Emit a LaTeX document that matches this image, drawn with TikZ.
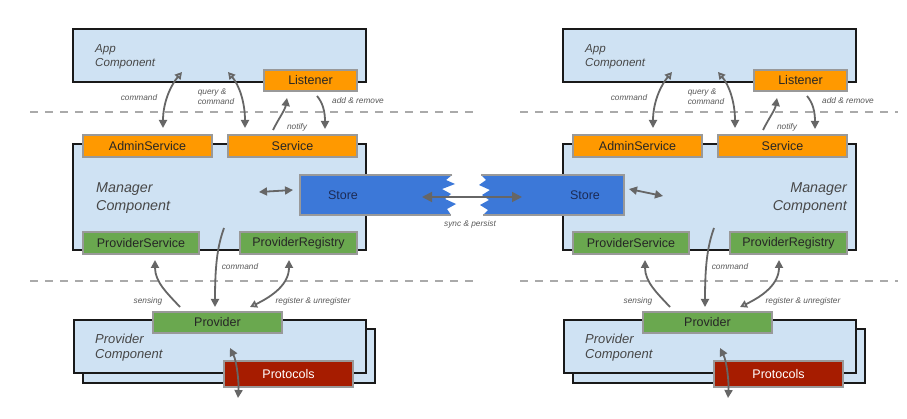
\documentclass[tikz,border=0pt]{standalone}
\usepackage{fontspec}
\setmainfont{Liberation Sans}
\usetikzlibrary{arrows.meta}
\definecolor{compfill}{HTML}{CFE2F3}
\definecolor{orng}{HTML}{FF9900}
\definecolor{grn}{HTML}{6AA84F}
\definecolor{stblue}{HTML}{3C78D8}
\definecolor{stnavy}{HTML}{1C2B55}
\definecolor{dred}{HTML}{A61C00}
\definecolor{arrgray}{HTML}{666666}
\definecolor{bordgray}{HTML}{999999}
\definecolor{dashgray}{HTML}{AAAAAA}
\tikzset{
  comp/.style={draw=black!90, line width=1.7pt, fill=compfill, inner sep=0pt, outer sep=0pt},
  smallbox/.style={draw=bordgray, line width=1.5pt, inner sep=0pt, outer sep=0pt,
    font=\fontsize{12.5}{14}\selectfont, text=black!85},
  arr/.style={draw=arrgray, line width=1.8pt},
  fwd/.style={arr, -{Triangle[length=8pt,width=8pt]}},
  twoway/.style={arr, {Triangle[length=8pt,width=8pt]}-{Triangle[length=8pt,width=8pt]}},
  openfwd/.style={arr, {Triangle[open,length=7pt,width=7.5pt]}-{Triangle[length=8pt,width=8pt]}},
  lbl/.style={font=\fontsize{8.3}{10}\selectfont\itshape, text=black!65, inner sep=0pt, align=left},
  complbl/.style={text=black!72, inner sep=0pt},
  dashline/.style={draw=dashgray, line width=1.8pt, dash pattern=on 8pt off 7pt},
  storetext/.style={font=\fontsize{12.5}{14}\selectfont, text=stnavy, inner sep=0pt}
}
\newcommand\halfdiagram[1]{%
  % App component
  \node[comp, minimum width=293pt, minimum height=53pt] (#1app) at (219.5,55.5) {};
  \node[complbl, anchor=west, align=left, font=\fontsize{11.6}{14}\selectfont\itshape] (#1applbl) at (95,57) {App\\Component};
  \node[smallbox, fill=orng, minimum width=93pt, minimum height=21pt] (#1listener) at (310.5,80.5) {Listener};
  % Manager component
  \node[comp, minimum width=293pt, minimum height=106pt] (#1mgr) at (219.5,197) {};
  \node[smallbox, fill=orng, minimum width=129pt, minimum height=22pt] (#1admin) at (147.5,146) {AdminService};
  \node[smallbox, fill=orng, minimum width=129pt, minimum height=22pt] (#1service) at (292.5,146) {Service};
  \node[smallbox, fill=grn, minimum width=116pt, minimum height=22pt] (#1provsvc) at (141,243) {ProviderService};
  \node[smallbox, fill=grn, minimum width=117pt, minimum height=22pt] (#1provreg) at (298.5,243) {ProviderRegistry};
  % Provider component
  \node[comp, minimum width=292pt, minimum height=54pt] (#1shadow) at (229,356) {};
  \node[comp, minimum width=292pt, minimum height=53pt] (#1provcomp) at (220,346.5) {};
  \node[complbl, anchor=west, align=left, font=\fontsize{13}{15}\selectfont\itshape] (#1provlbl) at (95,347.5) {Provider\\Component};
  \node[smallbox, fill=grn, minimum width=129pt, minimum height=21pt] (#1provider) at (217.5,322.5) {Provider};
  \node[smallbox, fill=dred, text=white, minimum width=129pt, minimum height=26pt] (#1protocols) at (288.5,374) {Protocols};
  % arrow ends
  \coordinate (#1cA) at (182,72);  \coordinate (#1cB) at (163,128);
  \coordinate (#1qA) at (228,72);  \coordinate (#1qB) at (245,128);
  \coordinate (#1nA) at (273,130); \coordinate (#1nB) at (287,98);
  \coordinate (#1rA) at (317,96);  \coordinate (#1rB) at (325,129);
  \coordinate (#1sA) at (180,307); \coordinate (#1sB) at (155,260);
  \coordinate (#1mA) at (224,228); \coordinate (#1mB) at (215,307);
  \coordinate (#1gA) at (250,307); \coordinate (#1gB) at (289,260);
  \coordinate (#1pA) at (230,348); \coordinate (#1pB) at (238,398);
  \draw[openfwd] (#1cA) .. controls (171,85) and (163,102) .. (#1cB);
  \draw[openfwd] (#1qA) .. controls (239,85) and (245,102) .. (#1qB);
  \draw[fwd] (#1nA) .. controls (279,118) and (285,110) .. (#1nB);
  \draw[fwd] (#1rA) .. controls (323,103) and (325,112) .. (#1rB);
  \draw[fwd] (#1sA) .. controls (167,293) and (155,282) .. (#1sB);
  \draw[fwd] (#1mA) .. controls (218,245) and (215,262) .. (#1mB);
  \draw[openfwd] (#1gA) .. controls (273,296) and (289,284) .. (#1gB);
  \draw[twoway] (#1pA) .. controls (237,362) and (239,383) .. (#1pB);
  % labels
  \node[lbl] (#1l1) at (139,98) {command};
  \node[lbl] (#1l2) at (216,97) {query \&\\command};
  \node[lbl] (#1l3) at (297,127) {notify};
  \node[lbl] (#1l4) at (358,101) {add \& remove};
  \node[lbl] (#1l5) at (148,301) {sensing};
  \node[lbl] (#1l6) at (240,267) {command};
  \node[lbl] (#1l7) at (313,301) {register \& unregister};
}
\begin{document}
\begin{tikzpicture}[x=1pt,y=-1pt]
\useasboundingbox[fill=white] (0,0) rectangle (907,419);
% dashed separators
\coordinate (d1a) at (30,112);  \coordinate (d1b) at (475,112);
\coordinate (d2a) at (520,112); \coordinate (d2b) at (898,112);
\coordinate (d3a) at (30,281);  \coordinate (d3b) at (475,281);
\coordinate (d4a) at (520,281); \coordinate (d4b) at (898,281);
\draw[dashline] (d1a) -- (d1b);
\draw[dashline] (d2a) -- (d2b);
\draw[dashline] (d3a) -- (d3b);
\draw[dashline] (d4a) -- (d4b);
% halves
\begin{scope}
  \halfdiagram{L}
\end{scope}
\begin{scope}[xshift=490pt]
  \halfdiagram{R}
\end{scope}
% manager labels
\node[complbl, anchor=west, align=left, font=\fontsize{14.3}{18}\selectfont\itshape] (Lmgrlbl) at (96,198) {Manager\\Component};
\node[complbl, anchor=east, align=right, font=\fontsize{14.3}{18}\selectfont\itshape] (Rmgrlbl) at (847,198) {Manager\\Component};
% stores
\fill[stblue] (300,175) -- (452,175) -- (446,180) -- (455,184) -- (442,189) -- (451,194)
  -- (445,199) -- (456,204) -- (447,209) -- (451,215) -- (300,215) -- cycle;
\draw[draw=bordgray, line width=1.5pt] (452,175) -- (300,175) -- (300,215) -- (451,215);
\fill[stblue] (624,175) -- (481,175) -- (486,180) -- (479,185) -- (490,190) -- (482,195)
  -- (489,200) -- (480,205) -- (488,210) -- (483,215) -- (624,215) -- cycle;
\draw[draw=bordgray, line width=1.5pt] (481,175) -- (624,175) -- (624,215) -- (483,215);
\node[storetext] (Lstore) at (343,195) {Store};
\node[storetext] (Rstore) at (585,195) {Store};
\coordinate (sync1) at (422,197); \coordinate (sync2) at (522,197);
\draw[arr, {Triangle[length=10pt,width=10pt]}-{Triangle[length=10pt,width=10pt]}] (sync1) -- (sync2);
\node[lbl] (synclbl) at (470,224) {sync \& persist};
\coordinate (La1) at (259,192); \coordinate (La2) at (293,190);
\coordinate (Ra1) at (629,189); \coordinate (Ra2) at (663,196);
\draw[twoway] (La1) -- (La2);
\draw[twoway] (Ra1) -- (Ra2);
\end{tikzpicture}
\end{document}
